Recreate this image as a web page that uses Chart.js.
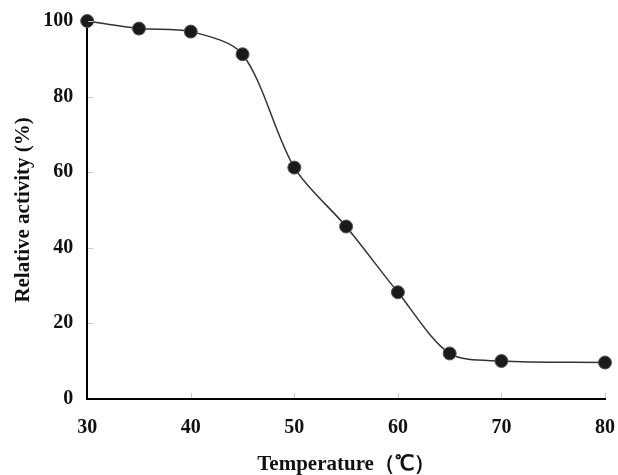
<!DOCTYPE html>
<html>
<head>
<meta charset="utf-8">
<script src="https://cdn.jsdelivr.net/npm/chart.js@4"></script>
<style>
  html, body { margin: 0; padding: 0; background: #fff; }
  #wrap { width: 618px; height: 475px; }
</style>
</head>
<body>
<div id="wrap"><canvas id="chartArea" width="618" height="475"></canvas></div>
<script>
// ----------------------------
// data
// ----------------------------
const temps = [30, 35, 40, 45, 50, 55, 60, 65, 70, 80];
const activity = [100, 98.0, 97.2, 91.2, 61.2, 45.6, 28.2, 12.0, 10.0, 9.6];
const xTicks = [30, 40, 50, 60, 70, 80];
const yTicks = [0, 20, 40, 60, 80, 100];

const serif = "'Liberation Serif', 'Times New Roman', serif";

// short inward tick marks, like the original figure
const innerTicks = {
  id: 'innerTicks',
  afterDatasetsDraw(chart) {
    const { ctx, scales: { x, y } } = chart;
    ctx.save();
    ctx.strokeStyle = '#c8c8c8';
    ctx.lineWidth = 1;
    ctx.beginPath();
    xTicks.forEach(v => {
      if (v === 30) return;
      const px = Math.round(x.getPixelForValue(v)) + 0.5;
      ctx.moveTo(px, y.bottom - 1);
      ctx.lineTo(px, y.bottom - 6);
    });
    yTicks.forEach(v => {
      if (v === 0) return;
      const py = Math.round(y.getPixelForValue(v)) + 0.5;
      ctx.moveTo(x.left + 1, py);
      ctx.lineTo(x.left + 6, py);
    });
    ctx.stroke();
    ctx.restore();
  }
};

// don't let end labels push the plot area inward
const noEdgePad = s => { s.paddingLeft = 0; s.paddingRight = 0; s.paddingTop = 0; s.paddingBottom = 0; };

new Chart(document.getElementById('chartArea'), {
  type: 'line',
  data: {
    datasets: [{
      data: temps.map((t, i) => ({ x: t, y: activity[i] })),
      borderColor: '#333',
      borderWidth: 1.5,
      tension: 0.3,
      pointRadius: 6.5,
      pointBackgroundColor: '#1a1a1a',
      pointBorderColor: '#555',
      pointBorderWidth: 1,
      clip: false
    }]
  },
  options: {
    responsive: false,
    animation: false,
    layout: { padding: { top: 21, right: 13, left: 11, bottom: -2 } },
    plugins: { legend: { display: false }, tooltip: { enabled: false } },
    scales: {
      x: {
        type: 'linear',
        min: 30, max: 80,
        afterBuildTicks: s => { s.ticks = xTicks.map(v => ({ value: v })); },
        afterFit: noEdgePad,
        grid: { display: false, drawTicks: false },
        border: { display: true, color: '#000', width: 2 },
        ticks: { color: '#111', padding: 17, font: { family: serif, size: 20, weight: 'bold' } },
        title: {
          display: true, text: 'Temperature（℃）', color: '#111', padding: { top: -5, bottom: 0 },
          font: { family: serif, size: 21, weight: 'bold' }
        }
      },
      y: {
        min: 0, max: 100,
        afterBuildTicks: s => { s.ticks = yTicks.map(v => ({ value: v })); },
        afterFit: noEdgePad,
        grid: { display: false, drawTicks: false },
        border: { display: true, color: '#000', width: 2 },
        ticks: { color: '#111', padding: 14, font: { family: serif, size: 20, weight: 'bold' } },
        title: {
          display: true, text: 'Relative activity (%)', color: '#111', padding: { top: 0, bottom: -7 },
          font: { family: serif, size: 21, weight: 'bold' }
        }
      }
    }
  },
  plugins: [innerTicks]
});
</script>
</body>
</html>
